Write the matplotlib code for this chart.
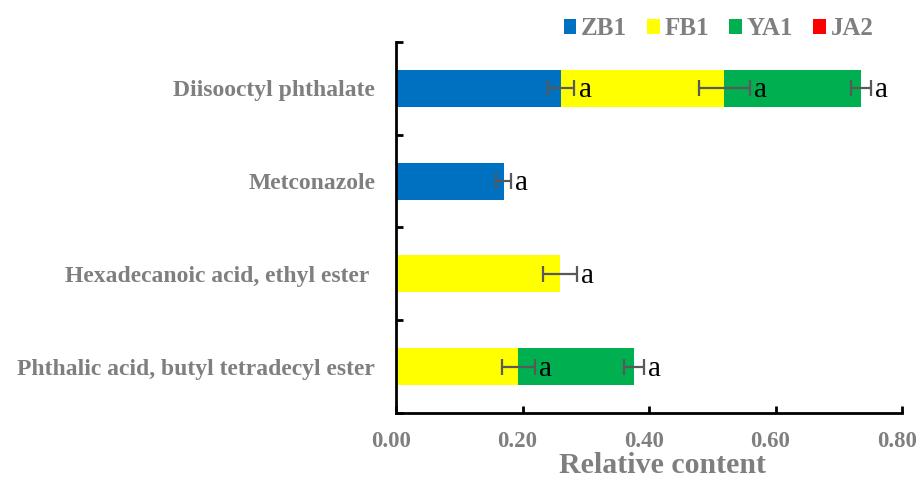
import numpy as np
import matplotlib.pyplot as plt
import matplotlib.transforms as mtransforms
from matplotlib.patches import Patch

# categories, bottom to top
compounds = ["Phthalic acid, butyl tetradecyl ester", "Hexadecanoic acid, ethyl ester ",
             "Metconazole", "Diisooctyl phthalate"]
groups = ["ZB1", "FB1", "YA1", "JA2"]
colors = ["#0070C0", "#FFFF00", "#00B050", "#FF0000"]

# relative content per group (nan = not detected)
zb1 = [np.nan, np.nan, 0.170, 0.261]
fb1 = [0.193, 0.259, np.nan, 0.258]
ya1 = [0.183, np.nan, np.nan, 0.216]
ja2 = [np.nan, np.nan, np.nan, np.nan]

zb1_err = [np.nan, np.nan, 0.0115, 0.0205]
fb1_err = [0.026, 0.027, np.nan, 0.040]
ya1_err = [0.0155, np.nan, np.nan, 0.016]
ja2_err = [np.nan, np.nan, np.nan, np.nan]

sig = "a"

values = [zb1, fb1, ya1, ja2]
errors = [zb1_err, fb1_err, ya1_err, ja2_err]

grey = "#7F7F7F"
serif = ["Liberation Serif", "DejaVu Serif"]

fig = plt.figure(figsize=(9.19, 4.8), dpi=100)
ax = fig.add_axes([0.431, 0.1396, 0.5505, 0.773])

# nudge the "a" letters a couple of pixels down
sig_shift = mtransforms.ScaledTranslation(0, -2 / 100, fig.dpi_scale_trans)

y = np.arange(len(compounds))
left = np.zeros(len(compounds))
for vals, errs, col in zip(values, errors, colors):
    v = np.nan_to_num(np.array(vals, dtype=float))
    e = np.array(errs, dtype=float)
    ax.barh(y, v, left=left, height=0.4, color=col, edgecolor="none", zorder=2)
    ends = left + v
    for yi, (val, er, end) in enumerate(zip(vals, e, ends)):
        if np.isnan(val):
            continue
        ax.errorbar(end, yi, xerr=er, fmt="none", ecolor="#595959",
                    elinewidth=1.6, capsize=6, capthick=1.6, zorder=3)
        ax.text(end + er + 0.007, yi, sig, ha="left", va="center",
                fontsize=21, family=serif, color="black", zorder=4,
                transform=ax.transData + sig_shift)
    left = ends

ax.set_xlim(0, 0.8)
ax.set_ylim(-0.5, len(compounds) - 0.5)
ax.set_xticks(np.arange(0, 0.81, 0.2))
ax.set_xticklabels([f"{t:.2f}" for t in np.arange(0, 0.81, 0.2)])
ax.set_yticks(y)
ax.set_yticklabels(compounds)
ax.set_yticks(np.arange(-0.5, len(compounds), 1), minor=True)

ax.tick_params(axis="y", which="major", length=0, pad=15)
ax.tick_params(axis="y", which="minor", direction="in", length=5, width=2)
ax.tick_params(axis="x", which="major", direction="in", length=5, width=2, pad=13)

for lab in ax.get_yticklabels():
    lab.set_family(serif)
    lab.set_fontweight("bold")
    lab.set_color(grey)
    lab.set_fontsize(17)
# x labels sit a few pixels left of their ticks
shift = mtransforms.ScaledTranslation(-5 / 100, 0, fig.dpi_scale_trans)
for lab in ax.get_xticklabels():
    lab.set_family(serif)
    lab.set_fontweight("bold")
    lab.set_color(grey)
    lab.set_fontsize(16.5)
    lab.set_transform(lab.get_transform() + shift)

ax.set_xlabel("Relative content", family=serif, fontweight="bold",
              color=grey, fontsize=21.5)
ax.xaxis.set_label_coords(0.526, -0.105)

for side in ["top", "right"]:
    ax.spines[side].set_visible(False)
for side in ["left", "bottom"]:
    ax.spines[side].set_linewidth(2)

handles = [Patch(facecolor=c, edgecolor="none") for c in colors]
leg = fig.legend(handles, groups, loc="center", bbox_to_anchor=(0.782, 0.94),
                 ncol=4, frameon=False, handlelength=0.5, handleheight=0.5,
                 handletextpad=0.2, columnspacing=0.8,
                 prop={"family": serif, "weight": "bold", "size": 18})
for t in leg.get_texts():
    t.set_color(grey)

fig.savefig("out.png", dpi=100)
